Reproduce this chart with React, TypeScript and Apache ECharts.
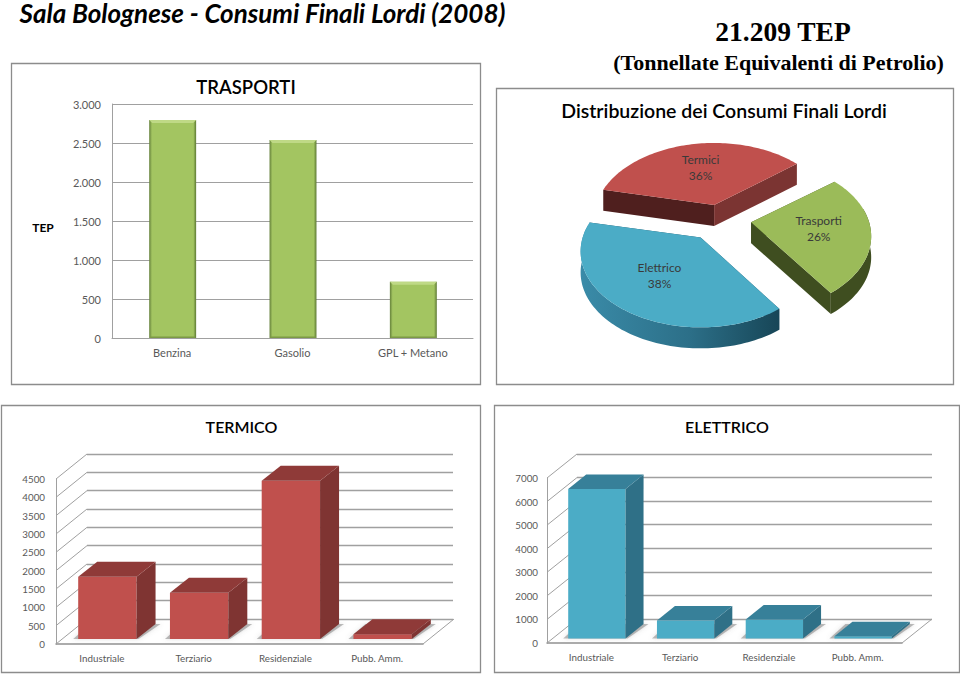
import React, { useEffect, useRef } from "react";
import * as echarts from "echarts";

// ---- data ----
const trasportiCategories = ["Benzina", "Gasolio", "GPL + Metano"];
const trasportiValues = [2795, 2538, 722];
const sectorCategories = ["Industriale", "Terziario", "Residenziale", "Pubb. Amm."];
const termicoValues = [1700, 1263, 4318, 130];
const elettricoValues = [6340, 765, 806, 100];
const termicoTicks = [0, 500, 1000, 1500, 2000, 2500, 3000, 3500, 4000, 4500];
const elettricoTicks = [0, 1000, 2000, 3000, 4000, 5000, 6000, 7000];
const pieNames = ["Trasporti", "Elettrico", "Termici"];
const pieShares = [26, 38, 36];

// ---- styling and layout ----
const FONT = "Lato";
const SERIF = "Liberation Serif";
const GRID_GRAY = "#a0a0a0";
const LABEL = "#595959";
const RED = { front: "#c0504d", side: "#7f3432", top: "#8f3a38" };
const BLUE = { front: "#4bacc6", side: "#2f7087", top: "#378099" };
const PIE_STYLE: any[] = [
  { top: "#9bbb59", startWall: "#3f4e20", endWall: "#3f4e20", outer: "#3f4e20", nudgeX: 1, nudgeY: -3 },
  {
    top: "#4bacc6",
    startWall: "#1c4f63",
    endWall: "#1c4f63",
    nudgeX: -1.5,
    nudgeY: 0,
    outer: {
      type: "linear", x: 0, y: 0, x2: 1, y2: 0,
      colorStops: [
        { offset: 0, color: "#3a8ba8" },
        { offset: 0.55, color: "#2c6f88" },
        { offset: 1, color: "#174657" },
      ],
    },
  },
  { top: "#c0504d", startWall: "#4f1f1e", endWall: "#7b3432", outer: "#7b3432", nudgeX: 1.5, nudgeY: 0 },
];

// 3D pie projection
const PIE = { cx: 719.5, cy: 222.5, rx: 118, ry: 73.4, persp: 0.184, ex: 31, ey: 18, depth: 21, start: 322 };

function piePoint(cx: number, cy: number, deg: number, f: number) {
  const t = (deg * Math.PI) / 180;
  const u = Math.cos(t) * f;
  const v = Math.sin(t) * f;
  const p = 1 / (1 - PIE.persp * v);
  return [cx + PIE.rx * u * p, cy + PIE.ry * v * p];
}

function renderPie(params: any, api: any) {
  const i = params.dataIndex;
  const total = pieShares.reduce((a, b) => a + b, 0);
  const before = pieShares.slice(0, i).reduce((a, b) => a + b, 0);
  const a0 = PIE.start + (before / total) * 360;
  const a1 = a0 + (api.value(0) / total) * 360;
  const mid = (((a0 + a1) / 2) * Math.PI) / 180;
  const s = PIE_STYLE[i];
  const cx = PIE.cx + PIE.ex * Math.cos(mid) + s.nudgeX;
  const cy = PIE.cy + PIE.ey * Math.sin(mid) + s.nudgeY;
  const arc: number[][] = [];
  const wall: number[][] = [];
  for (let a = a0; a <= a1 + 0.001; a += 1.5) {
    const pt = piePoint(cx, cy, a, 1);
    arc.push(pt);
    if (Math.sin((a * Math.PI) / 180) >= -0.2) wall.push(pt);
  }
  const first = arc[0];
  const last = arc[arc.length - 1];
  const drop = (p: number[]) => [p[0], p[1] + PIE.depth];
  const children: any[] = [
    { type: "polygon", shape: { points: [[cx, cy], first, drop(first), [cx, cy + PIE.depth]] }, style: { fill: s.startWall } },
    { type: "polygon", shape: { points: [[cx, cy], last, drop(last), [cx, cy + PIE.depth]] }, style: { fill: s.endWall } },
  ];
  if (wall.length > 1) {
    children.push({
      type: "polygon",
      shape: { points: [...wall, ...wall.slice().reverse().map(drop)] },
      style: { fill: s.outer },
    });
  }
  children.push({ type: "polygon", shape: { points: [[cx, cy], ...arc] }, style: { fill: s.top } });
  const lp = piePoint(cx, cy, (a0 + a1) / 2, 0.57);
  children.push({
    type: "text",
    x: lp[0],
    y: lp[1],
    style: {
      text: `${pieNames[i]}\n${api.value(0)}%`,
      fontFamily: FONT,
      fontSize: 12,
      lineHeight: 16,
      fill: "#3a3a3a",
      textAlign: "center",
      textVerticalAlign: "middle",
    },
  });
  return { type: "group", children };
}

function renderFlatBar(params: any, api: any) {
  const band = api.size([1, 0])[0];
  const w = band * 0.39;
  const top = api.coord([api.value(0), api.value(1)]);
  const base = api.coord([api.value(0), 0]);
  const x = top[0] - w / 2 + 0.5;
  const y = top[1];
  const h = base[1] - top[1];
  return {
    type: "group",
    children: [
      {
        type: "rect",
        shape: { x, y, width: w, height: h },
        style: {
          fill: {
            type: "linear", x: 0, y: 0, x2: 1, y2: 0,
            colorStops: [
              { offset: 0, color: "#64803a" },
              { offset: 0.06, color: "#a3c561" },
              { offset: 0.94, color: "#a3c561" },
              { offset: 1, color: "#5c7833" },
            ],
          },
        },
      },
      {
        type: "polygon",
        shape: { points: [[x, y], [x + w, y], [x + w - 3, y + 3], [x + 3, y + 3]] },
        style: { fill: "#bfd986" },
      },
      {
        type: "rect",
        shape: { x: x + 1, y: y + h - 1.5, width: w - 2, height: 1.5 },
        style: { fill: "#7c9a45" },
      },
    ],
  };
}

function make3DBar(colors: any, widthRatio: number, dx: number, dy: number, shiftX: number, shiftY: number) {
  return (params: any, api: any) => {
    const band = api.size([1, 0])[0];
    const w = band * widthRatio;
    const top = api.coord([api.value(0), api.value(1)]);
    const base = api.coord([api.value(0), 0]);
    const x = top[0] - w / 2 + shiftX;
    const y = top[1] + shiftY;
    const yb = base[1] + shiftY;
    return {
      type: "group",
      children: [
        {
          type: "polygon",
          shape: { points: [[x - 5, yb], [x + w + 2, yb], [x + w + dx + 5, yb + dy], [x + dx - 7, yb + dy]] },
          style: { fill: "rgba(110,110,110,0.45)", shadowBlur: 4, shadowColor: "rgba(110,110,110,0.5)" },
        },
        { type: "rect", shape: { x, y, width: w, height: yb - y }, style: { fill: colors.front } },
        {
          type: "polygon",
          shape: { points: [[x + w, y], [x + w + dx, y + dy], [x + w + dx, yb + dy], [x + w, yb]] },
          style: { fill: colors.side },
        },
        {
          type: "polygon",
          shape: { points: [[x, y], [x + dx, y + dy], [x + w + dx, y + dy], [x + w, y]] },
          style: { fill: colors.top },
        },
      ],
    };
  };
}

function makeGuides(dx: number, dy: number) {
  return (params: any, api: any) => {
    const y = api.coord([0, api.value(1)])[1];
    const x0 = params.coordSys.x;
    const lineStyle = { stroke: GRID_GRAY, lineWidth: 1, fill: "none" };
    const children: any[] = [
      { type: "line", shape: { x1: x0, y1: y, x2: x0 + dx, y2: y + dy }, style: lineStyle },
    ];
    if (api.value(1) === 0) {
      const x1 = x0 + params.coordSys.width;
      children.push({ type: "line", shape: { x1, y1: y, x2: x1 + dx, y2: y + dy }, style: lineStyle });
    }
    return { type: "group", children };
  };
}

const tickFont = { fontFamily: FONT, fontSize: 11, color: LABEL };
const sectorFont = { fontFamily: FONT, fontSize: 9.8, color: LABEL };

function frontAxes(gridIndex: number, max: number, interval: number, margin: number) {
  return {
    x: {
      type: "category", gridIndex, data: sectorCategories,
      axisLine: { lineStyle: { color: "#919191", width: 1.5 } },
      axisTick: { show: false },
      axisLabel: { ...sectorFont, margin: 9, interval: 0 },
    },
    y: {
      type: "value", gridIndex, min: 0, max, interval,
      axisLine: { show: true, lineStyle: { color: GRID_GRAY } },
      axisTick: { show: false },
      splitLine: { show: false },
      axisLabel: { ...sectorFont, margin, formatter: (v: number) => `${v}` },
    },
  };
}

function backAxes(gridIndex: number, max: number, interval: number) {
  return {
    x: {
      type: "category", gridIndex, data: sectorCategories,
      axisLine: { show: false }, axisTick: { show: false }, axisLabel: { show: false },
    },
    y: {
      type: "value", gridIndex, min: 0, max, interval,
      axisLine: { show: false }, axisTick: { show: false }, axisLabel: { show: false },
      splitLine: { show: true, lineStyle: { color: GRID_GRAY, width: 1.3 } },
    },
  };
}

const titleBlock = (text: string, left: number, top: number, fontSize: number, extra: any = {}) => ({
  text,
  left,
  top,
  textAlign: "center",
  textVerticalAlign: "middle",
  padding: 0,
  textStyle: { fontFamily: FONT, fontSize, fontWeight: 600, color: "#000000", ...extra },
});

export default function App() {
  const ref = useRef<HTMLDivElement>(null);
  useEffect(() => {
    const chart = echarts.init(ref.current!, undefined, { renderer: "svg" });
    const tf = frontAxes(1, 4500, 500, 11);
    const tb = backAxes(2, 4500, 500);
    const ef = frontAxes(3, 7000, 1000, 9);
    const eb = backAxes(4, 7000, 1000);
    const frame = (x: number, y: number, width: number, height: number) => ({
      type: "rect",
      shape: { x, y, width, height },
      style: { fill: "#ffffff", stroke: "#8c8c8c", lineWidth: 1.3 },
      z: -1,
    });
    chart.setOption({
      animation: false,
      backgroundColor: "#ffffff",
      title: [
        titleBlock("Sala Bolognese - Consumi Finali Lordi (2008)", 262.5, 12.5, 26, { fontWeight: "bold", fontStyle: "italic", lineHeight: 24 }),
        titleBlock("21.209 TEP", 783, 31, 27.5, { fontFamily: SERIF, fontWeight: "bold" }),
        titleBlock("(Tonnellate Equivalenti di Petrolio)", 778.5, 62, 22, { fontFamily: SERIF, fontWeight: "bold" }),
        titleBlock("TRASPORTI", 246, 87, 18.5),
        titleBlock("Distribuzione dei Consumi Finali Lordi", 724, 110, 19.5),
        titleBlock("TERMICO", 241.5, 426, 16),
        titleBlock("ELETTRICO", 727, 426, 16),
      ],
      graphic: [frame(11.5, 63.5, 469, 321), frame(496.5, 88.5, 457, 296), frame(1.5, 405.5, 479, 267), frame(494.5, 405.5, 465, 267)],
      grid: [
        { left: 112, top: 104, width: 361, height: 234 },
        { left: 56, top: 479, width: 367, height: 165 },
        { left: 87, top: 454, width: 366, height: 165 },
        { left: 547, top: 478, width: 355, height: 165 },
        { left: 577, top: 454, width: 355, height: 165 },
      ],
      xAxis: [
        {
          type: "category", gridIndex: 0, data: trasportiCategories,
          axisLine: { lineStyle: { color: GRID_GRAY } },
          axisTick: { show: false },
          axisLabel: { ...tickFont, margin: 9, interval: 0 },
        },
        tf.x, tb.x, ef.x, eb.x,
      ],
      yAxis: [
        {
          type: "value", gridIndex: 0, min: 0, max: 3000, interval: 500,
          name: "TEP",
          nameLocation: "middle",
          nameRotate: 0,
          nameGap: 69,
          nameTextStyle: { fontFamily: FONT, fontSize: 12, fontWeight: "bold", color: "#000000", align: "center", verticalAlign: "top" },
          axisLine: { show: true, lineStyle: { color: GRID_GRAY } },
          axisTick: { show: false },
          splitLine: { lineStyle: { color: GRID_GRAY } },
          axisLabel: {
            ...tickFont,
            margin: 11,
            formatter: (v: number) => (v >= 1000 ? `${Math.floor(v / 1000)}.${String(v % 1000).padStart(3, "0")}` : `${v}`),
          },
        },
        tf.y, tb.y, ef.y, eb.y,
      ],
      series: [
        {
          type: "custom", name: "Trasporti", xAxisIndex: 0, yAxisIndex: 0,
          data: trasportiValues.map((v, i) => [i, v]),
          renderItem: renderFlatBar,
        },
        {
          type: "custom", name: "Guide termico", xAxisIndex: 1, yAxisIndex: 1, silent: true, z: 1,
          data: termicoTicks.map((v) => [0, v]),
          renderItem: makeGuides(31, -25),
        },
        {
          type: "custom", name: "Termico", xAxisIndex: 1, yAxisIndex: 1,
          data: termicoValues.map((v, i) => [i, v]),
          renderItem: make3DBar(RED, 0.636, 19, -15, 5.5, -5),
        },
        {
          type: "custom", name: "Guide elettrico", xAxisIndex: 3, yAxisIndex: 3, silent: true, z: 1,
          data: elettricoTicks.map((v) => [0, v]),
          renderItem: makeGuides(30, -24),
        },
        {
          type: "custom", name: "Elettrico", xAxisIndex: 3, yAxisIndex: 3,
          data: elettricoValues.map((v, i) => [i, v]),
          renderItem: make3DBar(BLUE, 0.646, 18, -14.5, 5.5, -4.5),
        },
        {
          type: "custom", name: "Distribuzione", coordinateSystem: "none",
          data: pieShares.map((v) => [v]),
          renderItem: renderPie,
        },
      ],
    });
    return () => chart.dispose();
  }, []);
  return <div ref={ref} style={{ position: "absolute", left: 0, top: 0, width: 960, height: 675 }} />;
}
